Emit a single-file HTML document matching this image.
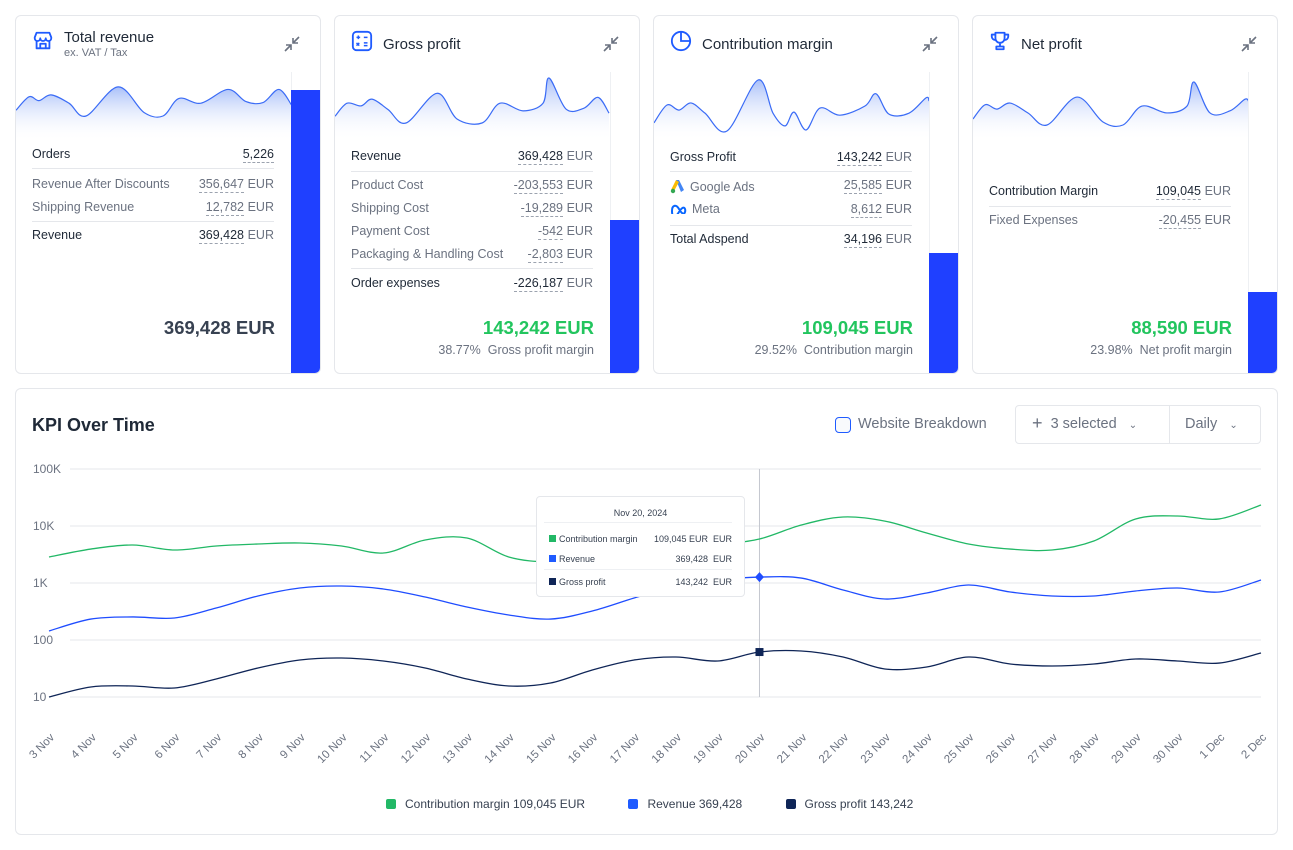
<!DOCTYPE html>
<html><head><meta charset="utf-8">
<style>
*{box-sizing:border-box;margin:0;padding:0}
body{width:1293px;height:850px;background:#fff;font-family:"Liberation Sans",sans-serif;color:#1f2937;position:relative;overflow:hidden}
.card{position:absolute;top:15px;width:306px;height:359px;border:1px solid #e5e7eb;border-radius:6px;background:#fff;overflow:hidden}
.bar{position:absolute;right:0;bottom:0;width:29px;background:#1f40ff}
.barbg{position:absolute;right:0;top:56px;bottom:0;width:29px;background:#fff;border-left:1px solid #eef0f3}
.title{position:absolute;left:48px;top:14px;font-size:14.5px;color:#1f2937}
.sub{position:absolute;left:48px;top:31px;font-size:11px;color:#6b7280}
.ico{position:absolute;left:16px;top:14px;width:22px;height:22px}
.shrink{position:absolute;right:18px;top:18px;width:20px;height:20px}
.row{position:absolute;left:16px;width:242px;height:20px;font-size:12.5px;color:#6b7280}
.row.dark{color:#1f2937}
.row .l{position:absolute;left:0;top:0}
.row .v{position:absolute;right:30px;top:0;border-bottom:1px dashed #9ca3af;line-height:15px}
.row .c{position:absolute;right:0;top:0;color:#6b7280}
.sep{position:absolute;left:16px;width:242px;height:1px;background:#e5e7eb}
.big{position:absolute;right:45px;top:301px;font-size:18.5px;font-weight:bold;color:#22c55e}
.pct{position:absolute;right:45px;top:327px;font-size:12.5px;color:#6b7280}
.spark{position:absolute;left:0;top:0}
</style></head><body>

<!-- Card 1 -->
<div class="card" style="left:15px">
  <svg class="spark" id="sp1" width="306" height="160"></svg>
  <div class="barbg"></div><div class="bar" style="height:283px"></div>
  <svg class="ico" viewBox="0 0 24 24"><path d="M3 8l2-5h14l2 5v1a3 3 0 0 1-6 0 3 3 0 0 1-6 0 3 3 0 0 1-6 0z M5 11v9h14v-9 M9 20v-5h6v5" fill="none" stroke="#1f5bff" stroke-width="2" stroke-linejoin="round"/></svg>
  <div class="title" style="top:13px;font-size:15px">Total revenue</div>
  <div class="sub">ex. VAT / Tax</div>
  <svg class="shrink" viewBox="0 0 20 20"><path d="M3 17l6-6M4 11h5v5M17 3l-6 6M16 9h-5V4" stroke="#6b7280" stroke-width="1.6" fill="none"/></svg>
  <div class="row dark" style="top:131px"><span class="l">Orders</span><span class="v" style="right:0">5,226</span></div>
  <div class="sep" style="top:152px"></div>
  <div class="row" style="top:161px"><span class="l">Revenue After Discounts</span><span class="v">356,647</span><span class="c">EUR</span></div>
  <div class="row" style="top:184px"><span class="l">Shipping Revenue</span><span class="v">12,782</span><span class="c">EUR</span></div>
  <div class="sep" style="top:205px"></div>
  <div class="row dark" style="top:212px"><span class="l">Revenue</span><span class="v">369,428</span><span class="c">EUR</span></div>
  <div class="big" style="color:#374151">369,428 EUR</div>
</div>

<!-- Card 2 -->
<div class="card" style="left:334px">
  <svg class="spark" id="sp2" width="306" height="160"></svg>
  <div class="barbg"></div><div class="bar" style="height:153px"></div>
  <svg class="ico" viewBox="0 0 24 24"><rect x="2" y="2" width="20" height="20" rx="4" fill="none" stroke="#1f5bff" stroke-width="2"/><path d="M6 8h4M8 6v4M14 8h4M6 14l3 3M9 14l-3 3M14 14h4M14 17h4" stroke="#1f5bff" stroke-width="1.6"/></svg>
  <div class="title" style="top:20px;font-size:15px">Gross profit</div>
  <svg class="shrink" viewBox="0 0 20 20"><path d="M3 17l6-6M4 11h5v5M17 3l-6 6M16 9h-5V4" stroke="#6b7280" stroke-width="1.6" fill="none"/></svg>
  <div class="row dark" style="top:133px"><span class="l">Revenue</span><span class="v">369,428</span><span class="c">EUR</span></div>
  <div class="sep" style="top:155px"></div>
  <div class="row" style="top:162px"><span class="l">Product Cost</span><span class="v">-203,553</span><span class="c">EUR</span></div>
  <div class="row" style="top:185px"><span class="l">Shipping Cost</span><span class="v">-19,289</span><span class="c">EUR</span></div>
  <div class="row" style="top:208px"><span class="l">Payment Cost</span><span class="v">-542</span><span class="c">EUR</span></div>
  <div class="row" style="top:231px"><span class="l">Packaging &amp; Handling Cost</span><span class="v">-2,803</span><span class="c">EUR</span></div>
  <div class="sep" style="top:252px"></div>
  <div class="row dark" style="top:260px"><span class="l">Order expenses</span><span class="v">-226,187</span><span class="c">EUR</span></div>
  <div class="big">143,242 EUR</div>
  <div class="pct">38.77%&nbsp; Gross profit margin</div>
</div>

<!-- Card 3 -->
<div class="card" style="left:653px">
  <svg class="spark" id="sp3" width="306" height="160"></svg>
  <div class="barbg"></div><div class="bar" style="height:120px"></div>
  <svg class="ico" viewBox="0 0 24 24"><circle cx="12" cy="12" r="10" fill="none" stroke="#1f5bff" stroke-width="2"/><path d="M12 2v10h10" fill="none" stroke="#1f5bff" stroke-width="2"/></svg>
  <div class="title" style="top:20px;font-size:15px">Contribution margin</div>
  <svg class="shrink" viewBox="0 0 20 20"><path d="M3 17l6-6M4 11h5v5M17 3l-6 6M16 9h-5V4" stroke="#6b7280" stroke-width="1.6" fill="none"/></svg>
  <div class="row dark" style="top:134px"><span class="l">Gross Profit</span><span class="v">143,242</span><span class="c">EUR</span></div>
  <div class="sep" style="top:155px"></div>
  <div class="row" style="top:162px"><span class="l"><svg width="16" height="16" viewBox="0 0 16 16" style="vertical-align:-3px;margin-right:4px"><path d="M6 2l3 0 5 10-3 2z" fill="#4285f4"/><path d="M6 2l3 2-5 9-3-1z" fill="#fbbc04"/><circle cx="3" cy="13" r="2.2" fill="#34a853"/></svg>Google Ads</span><span class="v">25,585</span><span class="c">EUR</span></div>
  <div class="row" style="top:186px"><span class="l"><svg width="18" height="12" viewBox="0 0 18 12" style="vertical-align:-1px;margin-right:4px"><path d="M2 9c0-6 4-7 7-2s5 6 6 3-1-8-6 0-7 4-7-1" fill="none" stroke="#0866ff" stroke-width="2"/></svg>Meta</span><span class="v">8,612</span><span class="c">EUR</span></div>
  <div class="sep" style="top:209px"></div>
  <div class="row dark" style="top:216px"><span class="l">Total Adspend</span><span class="v">34,196</span><span class="c">EUR</span></div>
  <div class="big">109,045 EUR</div>
  <div class="pct">29.52%&nbsp; Contribution margin</div>
</div>

<!-- Card 4 -->
<div class="card" style="left:972px">
  <svg class="spark" id="sp4" width="306" height="160"></svg>
  <div class="barbg"></div><div class="bar" style="height:81px"></div>
  <svg class="ico" viewBox="0 0 24 24"><path d="M7 3h10v6a5 5 0 0 1-10 0z M7 5H3v2a4 4 0 0 0 4 4 M17 5h4v2a4 4 0 0 1-4 4 M12 14v4 M8 21h8v-3H8z" fill="none" stroke="#1f5bff" stroke-width="2" stroke-linejoin="round"/></svg>
  <div class="title" style="top:20px;font-size:15px">Net profit</div>
  <svg class="shrink" viewBox="0 0 20 20"><path d="M3 17l6-6M4 11h5v5M17 3l-6 6M16 9h-5V4" stroke="#6b7280" stroke-width="1.6" fill="none"/></svg>
  <div class="row dark" style="top:168px"><span class="l">Contribution Margin</span><span class="v">109,045</span><span class="c">EUR</span></div>
  <div class="sep" style="top:190px"></div>
  <div class="row" style="top:197px"><span class="l">Fixed Expenses</span><span class="v">-20,455</span><span class="c">EUR</span></div>
  <div class="big">88,590 EUR</div>
  <div class="pct">23.98%&nbsp; Net profit margin</div>
</div>

<!-- KPI panel -->
<div style="position:absolute;left:15px;top:388px;width:1263px;height:447px;border:1px solid #e5e7eb;border-radius:6px"></div>
<div style="position:absolute;left:32px;top:415px;font-size:18px;font-weight:bold;color:#1f2937">KPI Over Time</div>
<div style="position:absolute;left:835px;top:417px;width:16px;height:16px;border:1.5px solid #1f5bff;border-radius:4px;background:#f8fafc"></div>
<div style="position:absolute;left:858px;top:416px;font-size:14.5px;color:#6b7280">Website Breakdown</div>
<div style="position:absolute;left:1015px;top:405px;width:246px;height:39px;border:1px solid #e5e7eb;border-radius:4px"></div>
<div style="position:absolute;left:1169px;top:405px;width:1px;height:39px;background:#e5e7eb"></div>
<div style="position:absolute;left:1032px;top:415px;font-size:14.5px;color:#6b7280"><span style="font-size:18px;line-height:16px;vertical-align:-1px">+</span>&nbsp;&nbsp;3 selected&nbsp;&nbsp;&nbsp;<span style="font-size:10px">&#8964;</span></div>
<div style="position:absolute;left:1185px;top:416px;font-size:14.5px;color:#6b7280">Daily&nbsp;&nbsp;&nbsp;<span style="font-size:10px">&#8964;</span></div>

<svg id="chart" style="position:absolute;left:0;top:0" width="1293" height="850"></svg>

<div style="position:absolute;left:536px;top:496px;width:209px;height:101px;background:#fff;border:1px solid #e5e7eb;border-radius:4px;font-size:9px;color:#374151">
  <div style="position:absolute;top:11px;width:100%;text-align:center">Nov 20, 2024</div>
  <div style="position:absolute;left:7px;right:12px;top:25px;height:1px;background:#eef0f3"></div>
  <div style="position:absolute;left:12px;right:12px;top:37px"><span style="display:inline-block;width:7px;height:7px;background:#22b866;margin-right:3px"></span>Contribution margin<span style="position:absolute;right:0">109,045 EUR&nbsp; EUR</span></div>
  <div style="position:absolute;left:12px;right:12px;top:57px"><span style="display:inline-block;width:7px;height:7px;background:#1f5bff;margin-right:3px"></span>Revenue<span style="position:absolute;right:0">369,428&nbsp; EUR</span></div>
  <div style="position:absolute;left:7px;right:12px;top:72px;height:1px;background:#eef0f3"></div>
  <div style="position:absolute;left:12px;right:12px;top:80px"><span style="display:inline-block;width:7px;height:7px;background:#0f2557;margin-right:3px"></span>Gross profit<span style="position:absolute;right:0">143,242&nbsp; EUR</span></div>
</div>

<div style="position:absolute;left:386px;top:797px;font-size:12px;color:#374151;white-space:nowrap">
  <span><span style="display:inline-block;width:10px;height:10px;border-radius:2px;background:#22b866;vertical-align:-1px;margin-right:9px"></span>Contribution margin 109,045 EUR</span>
  <span style="margin-left:40px"><span style="display:inline-block;width:10px;height:10px;border-radius:2px;background:#1f5bff;vertical-align:-1px;margin-right:9px"></span>Revenue 369,428</span>
  <span style="margin-left:40px"><span style="display:inline-block;width:10px;height:10px;border-radius:2px;background:#0f2557;vertical-align:-1px;margin-right:9px"></span>Gross profit 143,242</span>
</div>

<script>
const days = ["3 Nov","4 Nov","5 Nov","6 Nov","7 Nov","8 Nov","9 Nov","10 Nov","11 Nov","12 Nov","13 Nov","14 Nov","15 Nov","16 Nov","17 Nov","18 Nov","19 Nov","20 Nov","21 Nov","22 Nov","23 Nov","24 Nov","25 Nov","26 Nov","27 Nov","28 Nov","29 Nov","30 Nov","1 Dec","2 Dec"];
const contributionMargin = [2860,3940,4640,3790,4460,4830,5030,4460,3360,5680,6150,2860,2330,2530,2980,3640,4640,5910,10400,14400,12200,7540,4830,3940,3790,5460,13300,15000,13300,23400];
const revenue = [144,233,254,243,364,592,817,885,785,568,379,275,233,323,546,885,1130,1270,1220,754,524,668,922,695,592,592,724,817,695,1130];
const grossProfit = [10,15,15.6,14.4,20.7,32.3,44.6,48.3,42.8,32.3,20.7,15.6,17.6,29.8,44.6,50.3,42.8,61.5,64.1,50.3,31,33.6,50.3,37.9,35,37.9,46.4,42.8,39.4,59.2];
const yTicks = [100000,10000,1000,100,10];
const yTickLabels = ["100K","10K","1K","100","10"];
const hoverIndex = 17;

const spark1 = [0.18,0.6,0.48,0.66,0.4,0.0,0.91,0.11,0.0,0.55,0.4,0.83,0.45,0.42,0.83,0.32];
const spark2 = [0.15,0.44,0.38,0.53,0.3,0.0,0.66,0.09,0.0,0.44,0.27,0.44,1.0,0.31,0.33,0.57,0.22];
const spark3 = [0.16,0.51,0.41,0.55,0.35,0.0,1.0,0.35,0.1,0.37,0.02,0.45,0.31,0.49,0.73,0.33,0.35,0.65,0.59];
const spark4 = [0.14,0.47,0.37,0.51,0.28,0.0,0.65,0.07,0.0,0.44,0.28,0.44,1.0,0.28,0.33,0.6,0.53];
const sparkX1 = [0,13,23,35,53,70,102,128,147,163,185,212,230,247,263,276];
const sparkX2 = [0,12,26,37,53,71,102,122,147,165,188,208,214,231,249,263,274];
const sparkX3 = [0,13,25,37,51,73,104,119,131,140,152,166,186,211,222,235,255,272,275];
const sparkX4 = [0,12,24,37,55,74,104,130,150,169,194,214,221,237,257,272,276];

const NS="http://www.w3.org/2000/svg";
function mk(tag,attrs,parent){const e=document.createElementNS(NS,tag);for(const k in attrs)e.setAttribute(k,attrs[k]);parent.appendChild(e);return e;}
function smooth(pts){let d=`M${pts[0][0]},${pts[0][1]}`;for(let i=0;i<pts.length-1;i++){const p0=pts[i-1]||pts[i],p1=pts[i],p2=pts[i+1],p3=pts[i+2]||p2;const t=6;d+=` C${p1[0]+(p2[0]-p0[0])/t},${p1[1]+(p2[1]-p0[1])/t} ${p2[0]-(p3[0]-p1[0])/t},${p2[1]-(p3[1]-p1[1])/t} ${p2[0]},${p2[1]}`;}return d;}

// sparklines (coords relative to card; card top is at page y=15)
[[ "sp1",spark1,sparkX1,[100,68]],["sp2",spark2,sparkX2,[107,62]],["sp3",spark3,sparkX3,[115,64]],["sp4",spark4,sparkX4,[109,66]]].forEach(([id,vals,xs,rng],k)=>{
  const s=document.getElementById(id);
  const defs=mk('defs',{},s);const g=mk('linearGradient',{id:'g'+k,x1:0,y1:0,x2:0,y2:1},defs);
  mk('stop',{offset:'0','stop-color':'#9fb8f8','stop-opacity':'0.9'},g);mk('stop',{offset:'1','stop-color':'#ffffff','stop-opacity':'0'},g);
  const pts=vals.map((v,i)=>[xs[i],rng[0]+(rng[1]-rng[0])*v]);
  const d=smooth(pts);
  const a=mk('path',{d:d+` L${pts[pts.length-1][0]},125 L0,125 Z`,fill:`url(#g${k})`},s);
  
  
  const l=mk('path',{d:d,fill:'none',stroke:'#3b6cf6','stroke-width':1.2},s);
  
  
});

// main chart
const svg=document.getElementById('chart');
const X0=49,X1=1261,Ytop=469,Ybot=697;
const xs=i=>X0+(X1-X0)*i/(days.length-1);
const ys=v=>Ytop+(5-Math.log10(v))*(Ybot-Ytop)/4;
yTicks.forEach((t,i)=>{
  const y=ys(t);
  const gl=mk('line',{x1:70,x2:1261,y1:y,y2:y,stroke:'#e5e7eb','stroke-width':1},svg);
  
  
  const tx=mk('text',{x:33,y:y+4,'font-size':12,fill:'#6b7280','font-family':'Liberation Sans'},svg);
  tx.textContent=yTickLabels[i];
  
  
});
days.forEach((d,i)=>{
  const x=xs(i)+6;
  const t=mk('text',{x:x,y:738,'font-size':11.5,fill:'#6b7280','text-anchor':'end','font-family':'Liberation Sans',transform:`rotate(-45 ${x} 738)`},svg);
  t.textContent=d;
  
  
});
const hx=xs(hoverIndex);
const vl=mk('line',{x1:hx,x2:hx,y1:Ytop,y2:Ybot,stroke:'#c4c8d0','stroke-width':1},svg);


[[contributionMargin,'#22b866','contribution-margin-line'],[revenue,'#1f4dff','revenue-line'],[grossProfit,'#0f2557','gross-profit-line']].forEach(([arr,c,n])=>{
  const p=mk('path',{d:smooth(arr.map((v,i)=>[xs(i),ys(v)])),fill:'none',stroke:c,'stroke-width':1.3},svg);
  
  
});
const ry=ys(revenue[hoverIndex]);
const dm=mk('path',{d:`M${hx},${ry-5} L${hx+4.5},${ry} L${hx},${ry+5} L${hx-4.5},${ry} Z`,fill:'#1f4dff'},svg);


const gy=ys(grossProfit[hoverIndex]);
const sq=mk('rect',{x:hx-4,y:gy-4,width:8,height:8,fill:'#0f2557'},svg);


</script>
</body></html>
